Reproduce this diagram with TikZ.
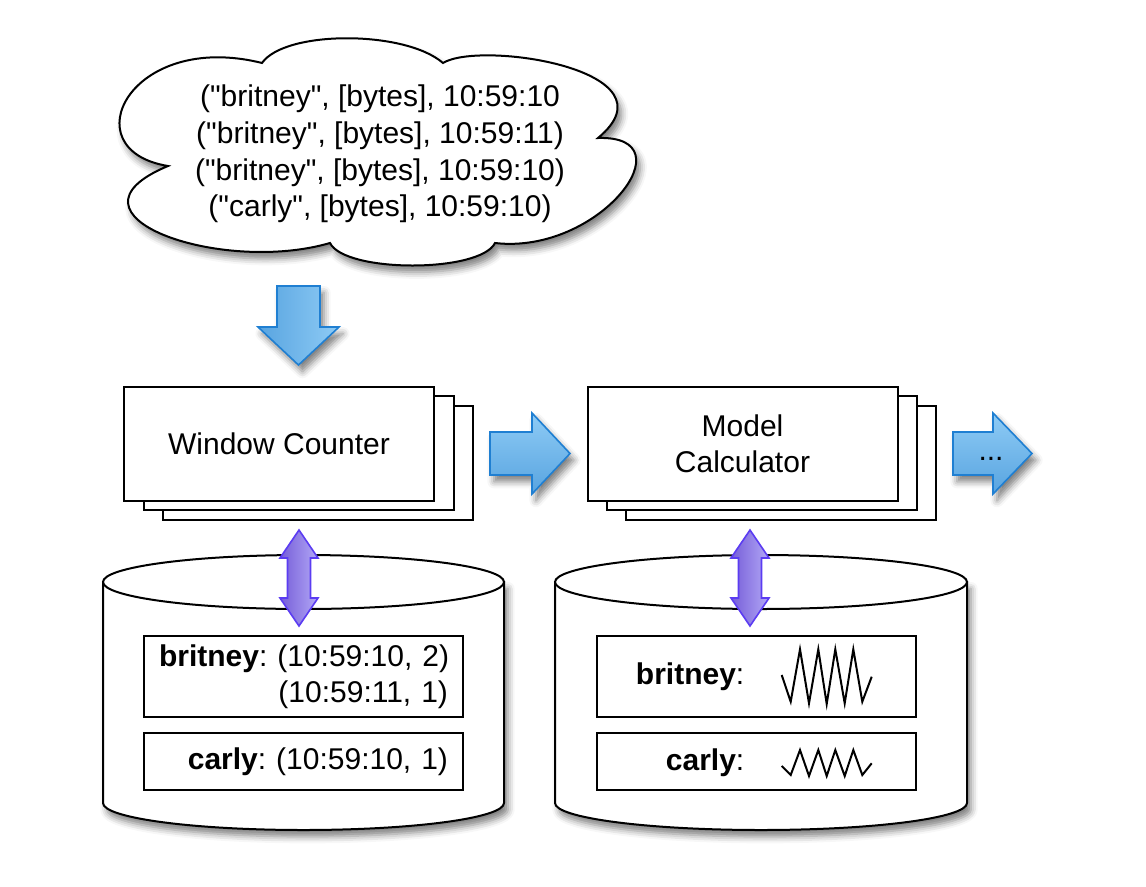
\documentclass[tikz,border=0pt]{standalone}
\usepackage{fontspec}
\setmainfont{Liberation Sans}[Ligatures=TeXOff]
\usetikzlibrary{shadows,shadows.blur}
\frenchspacing
\newcommand{\diagfont}{\fontsize{22.5}{27.4}\selectfont}
\definecolor{arrowline}{HTML}{1F7FD2}
\definecolor{arrowlight}{HTML}{8ECBF5}
\definecolor{arrowdark}{HTML}{58A4E0}
\definecolor{linkline}{HTML}{5B3CF2}
\definecolor{linkdark}{HTML}{765DD8}
\definecolor{linklight}{HTML}{B2A8F6}

\begin{document}
\begin{tikzpicture}[x=0.75pt,y=-0.75pt,
	every node/.style={font=\diagfont},
	stagebox/.style={draw,fill=white,line width=1.5pt,minimum width=310*0.75pt,minimum height=114*0.75pt,align=center},
	memrow/.style={draw,fill=white,line width=1.5pt,minimum width=319*0.75pt,inner xsep=15*0.75pt,text width=289*0.75pt,align=right},
	softshadow/.style={blur shadow={shadow xshift=3pt,shadow yshift=-5pt,shadow blur radius=5pt,shadow opacity=50}},
	dbshape/.style={draw,fill=white,line width=1.5pt,softshadow},
	fatarrow/.style={draw=arrowline,line width=1.2pt,line join=miter,softshadow},
	linkarrow/.style={draw=linkline,line width=1.2pt,left color=linkdark,right color=linklight,line join=miter},
	zigzag/.style={line width=1.5pt,line join=miter}]
	\useasboundingbox (0,0) rectangle (1146,886);
	
	% incoming stream
	\draw[dbshape] (168,166) .. controls (70,150) and (130,30) .. (262,63)
		.. controls (285,30) and (405,30) .. (443,63)
		.. controls (480,40) and (680,70) .. (598,138)
		.. controls (690,135) and (600,255) .. (495,243)
		.. controls (480,273) and (345,273) .. (330,243)
		.. controls (220,275) and (50,215) .. (168,166) -- cycle;
	\node[align=center] (stream) at (380,154) {("britney", [bytes], 10:59:10\\("britney", [bytes], 10:59:11)\\("britney", [bytes], 10:59:10)\\("carly", [bytes], 10:59:10)};
	
	\draw[fatarrow,left color=arrowdark,right color=arrowlight] (277,286) -- (320,286) -- (320,327) -- (339,327) -- (298.5,365) -- (258,327) -- (277,327) -- cycle;
	
	% stages
	\node[stagebox] (wc3) at (318,463) {};
	\node[stagebox] (wc2) at (298.5,453) {};
	\node[stagebox] (wc) at (279,444) {Window Counter};
	
	\draw[fatarrow,top color=arrowlight,bottom color=arrowdark] (490,432) -- (532,432) -- (532,413) -- (570,453.5) -- (532,494) -- (532,475) -- (490,475) -- cycle;
	
	\node[stagebox] (mc3) at (781,463) {};
	\node[stagebox] (mc2) at (761.5,453) {};
	\node[stagebox] (mc) at (742.5,444) {Model\\Calculator};
	
	\draw[fatarrow,top color=arrowlight,bottom color=arrowdark] (953,432) -- (993,432) -- (993,413) -- (1032,453.5) -- (993,494) -- (993,475) -- (953,475) -- cycle;
	\node (more) at (991,459) {...};
	
	% window store
	\draw[dbshape] (103,582) -- (103,803) arc[start angle=180,end angle=0,x radius=200.5,y radius=27] -- (504,582) -- cycle;
	\draw[fill=white,line width=1.5pt] (303.5,582) ellipse[x radius=200.5,y radius=27];
	\draw[linkarrow] (299,530) -- (318,558) -- (310.5,558) -- (310.5,598) -- (318,598) -- (299,626) -- (280,598) -- (287.5,598) -- (287.5,558) -- (280,558) -- cycle;
	\node[memrow,minimum height=81*0.75pt] (wcbrit) at (303.5,676.5) {\mbox{\textbf{britney}: (10:59:10, 2)}\\(10:59:11, 1)};
	\node[memrow,minimum height=57*0.75pt] (wccarly) at (303.5,761.5) {\mbox{\textbf{carly}: (10:59:10, 1)}};
	
	% model store
	\draw[dbshape] (555,582) -- (555,803) arc[start angle=180,end angle=0,x radius=206,y radius=27] -- (967,582) -- cycle;
	\draw[fill=white,line width=1.5pt] (761,582) ellipse[x radius=206,y radius=27];
	\draw[linkarrow] (750,530) -- (769,558) -- (761.5,558) -- (761.5,598) -- (769,598) -- (750,626) -- (731,598) -- (738.5,598) -- (738.5,558) -- (731,558) -- cycle;
	\node[draw,fill=white,line width=1.5pt,minimum width=319*0.75pt,minimum height=81*0.75pt] (mcbrit) at (756.5,676.5) {};
	\node[draw,fill=white,line width=1.5pt,minimum width=319*0.75pt,minimum height=57*0.75pt] (mccarly) at (756.5,761.5) {};
	\node[anchor=east] (mcbritlbl) at (749,677) {\textbf{britney}:};
	\node[anchor=east] (mccarlylbl) at (749,763) {\textbf{carly}:};
	\draw[zigzag] (781.7,675) -- (790.7,701.7) -- (800,649.3) -- (809,703.3) -- (818.3,649.3) -- (826.7,704) -- (835.3,649.3) -- (844.7,703.3) -- (853.3,649.3) -- (862.3,701.7) -- (871.7,676.7);
	\draw[zigzag] (781.7,766) -- (790.7,775) -- (800,750) -- (809,776) -- (818.3,750) -- (826.7,776) -- (835.3,750) -- (844.7,776) -- (853.3,750) -- (862.3,775) -- (871.7,763.3);
	
\end{tikzpicture}
\end{document}
